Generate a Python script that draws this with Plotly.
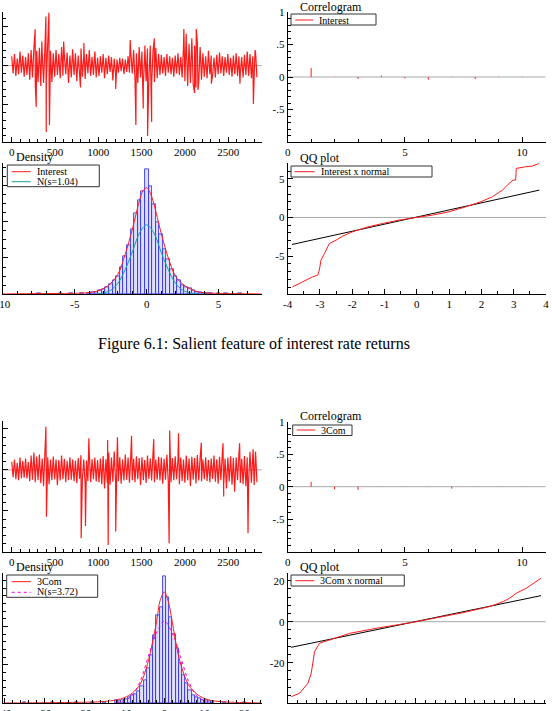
import plotly.graph_objects as go

W, H = 552, 711
FONT = "Liberation Serif, Times New Roman, serif"
RED = "#ff1a1a"

# ---------------- data ----------------
band_step = 16
int_band = [1.2,-1.0,1.5,-1.3,0.9,-1.1,1.8,-0.9,1.3,-1.4,1.1,-1.2,1.6,
            -1.8,2.0,-1.5,2.2,-2.4,1.9,-2.1,
            2.3,-2.6,1.8,-2.2,2.5,-2.0,2.8,-2.3,1.9,
            -2.1,1.6,-1.4,2.0,-1.2,1.5,-1.6,2.4,-1.3,1.4,-1.1,1.7,-2.2,1.3,-1.5,2.1,
            -1.2,1.6,-2.0,1.3,-1.1,2.2,-1.4,1.2,-1.7,1.5,-1.0,2.0,-1.3,1.1,-1.2,1.8,-1.5,1.0,
            -1.3,1.2,-0.9,1.5,-1.6,1.0,-1.1,1.3,-0.8,1.1,-1.9,0.9,-1.2,
            0.8,-0.9,1.0,-0.7,0.9,-1.1,0.8,-0.8,1.2,-0.9,1.6,-1.0,
            2.0,-1.8,1.6,-2.2,2.4,-1.5,1.8,-2.6,1.5,-2.0,2.2,-1.7,2.6,-2.4,1.9,-2.1,2.3,-1.6,1.5,
            -1.2,1.4,-1.0,1.1,-1.3,1.5,-0.9,1.2,-1.1,1.0,-1.4,1.3,-1.0,1.6,-1.2,1.1,-1.5,2.5,
            -2.0,3.2,-2.6,2.8,-2.2,3.5,-2.4,2.6,-2.8,3.0,-2.1,2.4,-1.8,
            1.6,-1.4,1.2,-1.6,1.9,-1.1,1.3,-1.2,1.0,-1.5,1.4,-1.1,1.7,-1.0,1.2,-1.3,1.1,-0.9,1.5,
            -1.2,1.0,-1.4,1.3,-1.1,1.6,-1.3,1.2,-1.0,1.1,-1.5,1.4,-1.2,1.8,-1.3,1.5,-1.6,1.2,-1.4,1.7,-1.5]
int_spike_t = [271,283,348,395,399,430,436,600,794,833,1201,1368,1434,1519,1538,1569,1616,1647,
               1988,2015,2112,2131,2151,2306,2636,2791,2810]
int_spike_v = [4.66,-5.3,3.1,6.3,-8.5,6.8,-7.6,3.1,-2.8,2.9,-3.0,3.3,-7.6,-5.5,2.6,-9.0,-7.2,3.5,
               4.7,4.1,-3.5,4.7,-3.1,-2.3,-2.3,-4.9,2.0]

com_band = [4,-3.5,5,-4.5,3.5,-5,6,-4,4.5,-3.8,5.5,-4.2,3.8,
            -5.5,7,-4.8,8.5,-6,6.5,-5,
            7.5,-6.5,5.5,-8,9,-5.5,6,-7,5,
            -5,6.5,-4.5,5,-7.5,4.8,-5.2,7,-4.6,5.4,-6,4.4,-5,6.2,-4.8,5,
            -5.5,4.5,-6.5,5.8,-4.4,7.2,-5,5,-6.8,4.6,-5.4,8,-6,5.2,-4.6,6,-5.6,4.8,
            -6,5.5,-7,6.8,-9,5.2,-6.4,8.5,-7.2,6,-5.8,9,-6.6,
            7,-5.4,6.2,-6.8,5,-5.2,7.5,-4.8,6,-6.2,8,-5,
            5.4,-6,6.6,-4.6,5.8,-7.4,6.2,-5,4.8,-6.4,7,-4.4,5.6,-5.2,8.2,-6,5,-4.8,6.4,
            -5.2,6,-6.8,5.4,-4.8,7.4,-5.6,4.6,-6,5.8,-5,6.6,-4.6,5.2,-7,6,-5.4,5,
            -6.2,7,-5,5.6,-7.8,6.4,-4.8,5.8,-6.6,7.2,-5.2,6,-5.6,
            5,-4.6,6.2,-5.4,4.8,-6,5.6,-4.4,7,-5.8,5.2,-6.8,6.4,-5,8,-7.6,5.4,-9,6,
            -5.6,6.6,-7.2,5.8,-8.4,6.2,-5,7.6,-6.4,5.4,-7,6.8,-8,6,-5.6,8.8,-6.2,7,-7.4,9,-6]
com_spike_t = [395,401,802,852,891,1108,1114,1201,1221,1384,1640,1818,1824,1926,2190,2440,2448,
               2575,2632,2729,2788]
com_spike_v = [21.1,-22.8,-33.3,-27.3,15.4,14.6,-36.6,-30.1,15.9,16.6,15.0,-35.8,19.2,17.9,13.3,
               13.0,-13.0,-10.6,13.0,-30.9,10.1]

acf_lags = [1,2,3,4,5,6,7,8,9,10]
int_acf = [0.14,0.005,-0.03,0.02,-0.02,-0.04,0.005,-0.03,0.005,0.005]
com_acf = [0.075,-0.04,-0.05,0.003,0.003,0.003,-0.03,0.003,0.003,0.003]

int_bin_w = 0.25
int_hist_x = [-7.5,-6.0,-5.25,-4.5,-4.0,-3.75,-3.5,-3.25,-3.0,-2.75,-2.5,-2.25,-2.0,-1.75,-1.5,
              -1.25,-1.0,-0.75,-0.5,-0.25,0.0,0.25,0.5,0.75,1.0,1.25,1.5,1.75,2.0,2.25,2.5,2.75,
              3.0,3.25,3.5,3.75,4.0,4.25,4.5,5.0,5.5,6.5]
int_hist_y = [0.002,0.002,0.003,0.003,0.006,0.008,0.012,0.02,0.025,0.04,0.055,0.075,0.10,0.15,0.21,
              0.27,0.36,0.45,0.52,0.57,0.69,0.60,0.50,0.40,0.33,0.25,0.19,0.14,0.10,0.075,0.05,0.04,
              0.03,0.02,0.012,0.008,0.005,0.004,0.003,0.003,0.002,0.002]
int_kde_x = [-10,-8,-6,-5,-4,-3.5,-3,-2.5,-2,-1.5,-1,-0.5,-0.25,0,0.25,0.5,1,1.5,2,2.5,3,3.5,4,5,6,8]
int_kde_y = [0.0,0.002,0.003,0.004,0.008,0.015,0.03,0.06,0.11,0.22,0.36,0.52,0.575,0.59,0.56,0.50,
             0.34,0.20,0.10,0.055,0.03,0.013,0.007,0.003,0.002,0.0]
int_norm_x = [-3.5,-3,-2.5,-2,-1.5,-1,-0.5,0,0.5,1,1.5,2,2.5,3,3.5]
int_norm_y = [0.001,0.006,0.021,0.060,0.135,0.233,0.339,0.384,0.339,0.233,0.135,0.060,0.021,0.006,0.001]

com_bin_w = 0.8
com_hist_x = [-35,-28,-22,-18,-15,-12.0,-11.2,-10.4,-9.6,-8.8,-8.0,-7.2,-6.4,-5.6,-4.8,-4.0,-3.2,
              -2.4,-1.6,-0.8,0.0,0.8,1.6,2.4,3.2,4.0,4.8,5.6,6.4,7.2,8.0,8.8,9.6,10.4,11.2,12.0,15,20]
com_hist_y = [0.0008,0.0008,0.0008,0.0008,0.001,0.003,0.002,0.004,0.005,0.008,0.010,0.012,0.015,
              0.022,0.030,0.045,0.062,0.088,0.115,0.125,0.166,0.138,0.112,0.090,0.072,0.052,0.036,
              0.026,0.016,0.010,0.008,0.006,0.004,0.003,0.002,0.002,0.001,0.0008]
com_kde_x = [-40,-20,-15,-12,-10,-8,-6,-4,-3,-2,-1,0,1,2,3,4,6,8,10,12,15,20,24]
com_kde_y = [0.0,0.001,0.002,0.004,0.007,0.013,0.025,0.055,0.078,0.105,0.135,0.145,0.132,0.105,
             0.075,0.052,0.024,0.012,0.006,0.003,0.0015,0.0005,0.0]
com_norm_x = [-12,-10,-8,-6,-4,-2,0,2,4,6,8,10,12]
com_norm_y = [0.0005,0.0029,0.010,0.029,0.061,0.091,0.107,0.091,0.061,0.029,0.010,0.0029,0.0005]

qq1_x = [-3.85,-3.54,-3.23,-3.07,-3.02,-2.97,-2.86,-2.71,-2.50,-2.30,-1.99,-1.58,-1.06,-0.55,-0.03,
         0.48,1.0,1.51,1.98,2.34,2.65,2.86,2.98,3.06,3.08,3.37,3.58,3.79]
qq1_y = [-8.98,-8.33,-7.68,-7.46,-6.82,-5.52,-4.66,-3.37,-2.94,-2.42,-1.86,-1.30,-0.78,-0.35,0.0,
         0.30,0.73,1.37,2.02,2.67,3.53,4.40,4.83,4.83,6.34,6.55,6.64,6.99]
qq1_ref_x = [-3.87, 3.79]
qq1_ref_y = [-3.5, 3.53]
qq2_x = [-12.6,-11.75,-10.9,-10.57,-10.23,-9.73,-8.71,-6.69,-3.98,-1.96,0.07,2.1,4.8,7.5,8.86,9.5,
         10.2,11.2,12.7]
qq2_y = [-36.6,-34.9,-30.0,-25.2,-14.6,-10.5,-8.9,-5.7,-3.2,-1.6,0.0,1.9,4.4,7.4,9.8,11.4,13.9,
         16.3,21.2]
qq2_ref_x = [-12.6, 12.7]
qq2_ref_y = [-12.5, 12.7]

# tick labels
ts_ticks = [0, 500, 1000, 1500, 2000, 2500]
corr_xticks = [0, 5, 10]
corr_yticks = [-0.5, 0, 0.5, 1]
corr_ylabels = ["-.5", "0", ".5", "1"]
dens1_ticks = [-10, -5, 0, 5]
qq1_xticks = [-4, -3, -2, -1, 0, 1, 2, 3, 4]
qq1_yticks = [-5, 0, 5]
dens2_ticks = [-40, -30, -20, -10, 0, 10, 20]
qq2_xticks = [-10, -5, 0, 5, 10]
qq2_yticks = [-20, 0, 20]

caption = "Figure 6.1: Salient feature of interest rate returns"

# ---------------- helpers ----------------
def merge(band, step, st, sv):
    pts = [(i * step, v) for i, v in enumerate(band)] + list(zip(st, sv))
    pts.sort()
    return [p[0] for p in pts], [p[1] for p in pts]

def dx(a, b):
    return [a / W, b / W]

def dy(top, bottom):
    return [1 - bottom / H, 1 - top / H]

def axis(dom, rng, anchor, vals=None, texts=None, minor=None, major=None, labels=True):
    d = dict(domain=dom, range=rng, anchor=anchor, showline=True, linecolor="black",
             linewidth=1, ticks="inside", ticklen=5, tickcolor="black", tickwidth=1,
             showgrid=False, zeroline=False, showticklabels=labels, automargin=False,
             tickfont=dict(family=FONT, size=11, color="black"),
             ticklabeloverflow="allow", fixedrange=True)
    if vals is not None:
        d["tickmode"] = "array"
        d["tickvals"] = vals
        d["ticktext"] = texts if texts is not None else [str(v) for v in vals]
    elif major is not None:
        d["dtick"] = major
        d["tick0"] = 0
    if minor is not None:
        d["minor"] = dict(dtick=minor, tick0=0, ticks="inside", ticklen=3,
                          tickcolor="black", showgrid=False)
    return d

def stems(xs, ys):
    ox, oy = [], []
    for x, y in zip(xs, ys):
        ox += [x, x, None]
        oy += [0, y, None]
    return ox, oy

def line(x, y, xa, ya, color=RED, dash="solid", shape="linear", width=1):
    return go.Scatter(x=x, y=y, mode="lines", line=dict(color=color, width=width, dash=dash,
                      shape=shape, simplify=False), xaxis=xa, yaxis=ya, hoverinfo="skip")

HIST_MARKER = dict(color="rgba(150,150,255,0.30)", line=dict(color="rgb(60,60,240)", width=0.9))

fig = go.Figure()

L_X = (3, 261.7)
R_X = (287.7, 545.5)

# ---- row 1 ----
t1, v1 = merge(int_band, band_step, int_spike_t, int_spike_v)
fig.add_trace(line(t1, v1, "x", "y", width=1.2))
sx, sy = stems(acf_lags, int_acf)
fig.add_trace(line(sx, sy, "x2", "y2"))
fig.add_trace(go.Bar(x=int_hist_x, y=int_hist_y, width=int_bin_w, marker=HIST_MARKER,
                     xaxis="x3", yaxis="y3"))
fig.add_trace(line(int_norm_x, int_norm_y, "x3", "y3", color="rgb(20,160,150)", shape="spline"))
fig.add_trace(line(int_kde_x, int_kde_y, "x3", "y3", shape="spline"))
fig.add_trace(line(qq1_ref_x, qq1_ref_y, "x4", "y4", color="black"))
fig.add_trace(line(qq1_x, qq1_y, "x4", "y4"))

# ---- row 2 ----
t2, v2 = merge(com_band, band_step, com_spike_t, com_spike_v)
fig.add_trace(line(t2, v2, "x5", "y5", width=1.2))
sx, sy = stems(acf_lags, com_acf)
fig.add_trace(line(sx, sy, "x6", "y6"))
fig.add_trace(go.Bar(x=com_hist_x, y=com_hist_y, width=com_bin_w, marker=HIST_MARKER,
                     xaxis="x7", yaxis="y7"))
fig.add_trace(line(com_norm_x, com_norm_y, "x7", "y7", color="rgb(230,0,230)", dash="dot",
                   shape="spline"))
fig.add_trace(line(com_kde_x, com_kde_y, "x7", "y7", shape="spline"))
fig.add_trace(line(qq2_ref_x, qq2_ref_y, "x8", "y8", color="black"))
fig.add_trace(line(qq2_x, qq2_y, "x8", "y8"))

def hy(vals):
    return [str(v) for v in vals]

fig.update_layout(
    template="none",
    width=W, height=H, margin=dict(l=0, r=0, t=0, b=0, pad=0),
    paper_bgcolor="white", plot_bgcolor="white", showlegend=False, bargap=0,
    font=dict(family=FONT, color="black"),
    xaxis=axis(dx(*L_X), [-100.5, 2887], "y", ts_ticks, minor=100),
    yaxis=axis(dy(11.7, 141.7), [-9.74, 6.92], "x", major=5, minor=1, labels=False),
    xaxis2=axis(dx(*R_X), [0, 11], "y2", corr_xticks, minor=1),
    yaxis2=axis(dy(12, 142), [-1, 1], "x2", corr_yticks, corr_ylabels, minor=0.1),
    xaxis3=axis(dx(*L_X), [-10, 8], "y3", dens1_ticks, hy(dens1_ticks), minor=1),
    yaxis3=axis(dy(163.3, 294), [0, 0.726], "x3", major=0.2, minor=0.05, labels=False),
    xaxis4=axis(dx(287.7, 546), [-4, 4], "y4", qq1_xticks, hy(qq1_xticks), minor=0.5),
    yaxis4=axis(dy(163.3, 294), [-9.9, 7.0], "x4", qq1_yticks, hy(qq1_yticks), minor=1),
    xaxis5=axis(dx(*L_X), [-100.5, 2887], "y5", ts_ticks, minor=100),
    yaxis5=axis(dy(420.7, 551.7), [-39.9, 24.0], "x5", major=20, minor=4, labels=False),
    xaxis6=axis(dx(*R_X), [0, 11], "y6", corr_xticks, minor=1),
    yaxis6=axis(dy(421.7, 551.7), [-1, 1], "x6", corr_yticks, corr_ylabels, minor=0.1),
    xaxis7=axis(dx(*L_X), [-40.3, 24.3], "y7", dens2_ticks, hy(dens2_ticks), minor=2),
    yaxis7=axis(dy(573.3, 703), [0, 0.1695], "x7", major=0.05, minor=0.01, labels=False),
    xaxis8=axis(dx(*R_X), [-12.95, 13.15], "y8", qq2_xticks, hy(qq2_xticks), minor=1),
    yaxis8=axis(dy(573.3, 703.3), [-39.8, 23.6], "x8", qq2_yticks, hy(qq2_yticks), minor=4),
)

shapes = []
annotations = []

for xa, ya in [("x", "y"), ("x2", "y2"), ("x4", "y4"), ("x5", "y5"), ("x6", "y6"), ("x8", "y8")]:
    shapes.append(dict(type="line", xref=f"{xa} domain", yref=ya, x0=0, x1=1, y0=0, y1=0,
                       line=dict(color="#a8a8a8", width=1), layer="below"))

def px(x):
    return x / W

def py(y):
    return 1 - y / H

def title(text, x, y):
    annotations.append(dict(text=text, x=px(x), y=py(y), xref="paper", yref="paper",
                            xanchor="left", yanchor="middle", showarrow=False,
                            font=dict(family=FONT, size=12, color="black")))

def legend_box(x0, y0, x1, y1):
    shapes.append(dict(type="rect", xref="paper", yref="paper", x0=px(x0), x1=px(x1),
                       y0=py(y1), y1=py(y0), line=dict(color="#333333", width=1),
                       fillcolor="white", layer="above"))

def legend_entry(x0, x1, y, color, text, dash="solid"):
    shapes.append(dict(type="line", xref="paper", yref="paper", x0=px(x0), x1=px(x1),
                       y0=py(y), y1=py(y), line=dict(color=color, width=1, dash=dash),
                       layer="above"))
    annotations.append(dict(text=text, x=px(x1 + 4), y=py(y), xref="paper", yref="paper",
                            xanchor="left", yanchor="middle", showarrow=False,
                            font=dict(family=FONT, size=10, color="black")))

title("Correlogram", 298, 6.5)
title("Density", 14, 157)
title("QQ plot", 298, 158)
title("Correlogram", 298, 415.5)
title("Density", 14, 567)
title("QQ plot", 298, 567)

legend_box(291, 14, 376, 25)
legend_entry(295.3, 313.3, 20, RED, "Interest")
legend_box(7.3, 165, 99.3, 186.7)
legend_entry(11.7, 30.7, 171.7, RED, "Interest")
legend_entry(11.7, 30.7, 181.7, "rgb(20,160,150)", "N(s=1.04)")
legend_box(291, 166, 432, 177)
legend_entry(294.5, 314.5, 171.7, RED, "Interest x normal")

legend_box(292.7, 425, 352, 435.5)
legend_entry(296.7, 315.3, 430, RED, "3Com")
legend_box(6.7, 575, 97.7, 597.3)
legend_entry(11.7, 30.7, 581.7, RED, "3Com")
legend_entry(11.7, 30.7, 592.3, "rgb(230,0,230)", "N(s=3.72)", dash="dot")
legend_box(291, 575, 404.3, 586)
legend_entry(295.3, 314.3, 580.7, RED, "3Com x normal")

annotations.append(dict(text=caption, x=px(253.5), y=py(344), xref="paper", yref="paper",
                        xanchor="center", yanchor="middle", showarrow=False,
                        font=dict(family=FONT, size=16, color="black")))

fig.update_layout(shapes=shapes, annotations=annotations)
fig.write_html("out.html")
